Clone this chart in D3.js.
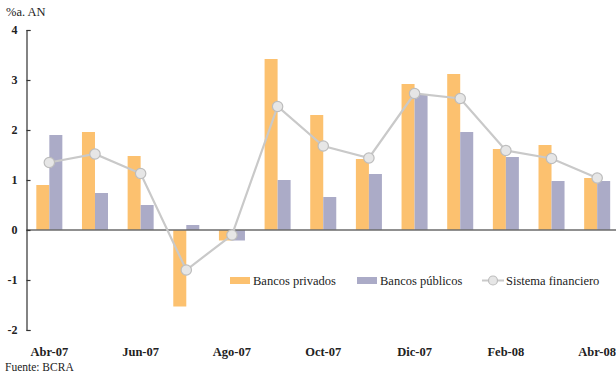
<!DOCTYPE html>
<html>
<head>
<meta charset="utf-8">
<script src="https://cdn.jsdelivr.net/npm/d3@7"></script>
<style>
  html, body { margin: 0; padding: 0; background: #fff; }
  svg { display: block; font-family: "Liberation Serif", "DejaVu Serif", serif; }
</style>
</head>
<body>
<svg id="chart" width="616" height="374"></svg>
<script>
// Monthly growth, % annualized
const months = ["Abr-07","May-07","Jun-07","Jul-07","Ago-07","Sep-07","Oct-07","Nov-07","Dic-07","Ene-08","Feb-08","Mar-08","Abr-08"];
const bancosPrivados = [0.90, 1.96, 1.48, -1.53, -0.21, 3.42, 2.30, 1.42, 2.92, 3.12, 1.62, 1.70, 1.04];
const bancosPublicos = [1.90, 0.74, 0.50, 0.10, -0.21, 1.00, 0.66, 1.12, 2.70, 1.96, 1.46, 0.98, 0.98];
const sistemaFinanciero = [1.35, 1.52, 1.13, -0.80, -0.10, 2.47, 1.68, 1.44, 2.73, 2.63, 1.59, 1.43, 1.04];
const yTicks = [-2, -1, 0, 1, 2, 3, 4];
const xLabels = ["Abr-07","Jun-07","Ago-07","Oct-07","Dic-07","Feb-08","Abr-08"];

const colPriv = "#FCC16F", colPub = "#ABABC7", colLine = "#C9C9C9";
const serif = "'Liberation Serif', 'DejaVu Serif', serif";

const svg = d3.select("#chart");

const x = d3.scaleBand().domain(months).range([26.5, 620]).paddingInner(0.43).paddingOuter(0.215);
const xs = d3.scaleBand().domain(["priv","pub"]).range([0, x.bandwidth()]);
const y = d3.scaleLinear().domain([-2, 4]).range([330, 30]);
const cx = m => x(m) + x.bandwidth() / 2;

// Title
svg.append("text").attr("x", 6).attr("y", 16).attr("font-family", serif).attr("font-size", 12.5).attr("fill", "#222").text("%a. AN");

// Bars
const g = svg.append("g");
g.selectAll("rect.priv").data(months).join("rect")
  .attr("x", m => x(m) + xs("priv"))
  .attr("width", xs.bandwidth())
  .attr("y", (m, i) => y(Math.max(0, bancosPrivados[i])))
  .attr("height", (m, i) => Math.abs(y(bancosPrivados[i]) - y(0)))
  .attr("fill", colPriv);
g.selectAll("rect.pub").data(months).join("rect")
  .attr("x", m => x(m) + xs("pub"))
  .attr("width", xs.bandwidth())
  .attr("y", (m, i) => y(Math.max(0, bancosPublicos[i])))
  .attr("height", (m, i) => Math.abs(y(bancosPublicos[i]) - y(0)))
  .attr("fill", colPub);

// Zero line
svg.append("line").attr("x1", 26.5).attr("x2", 616).attr("y1", y(0)).attr("y2", y(0))
  .attr("stroke", "#6b6b6b").attr("stroke-width", 1.5);

// Y axis
const yAxis = svg.append("g").attr("transform", "translate(26.5,0)")
  .call(d3.axisLeft(y).tickValues(yTicks).tickSize(-4).tickPadding(9).tickFormat(d => String(d)));
yAxis.select(".domain").attr("stroke", "#333").attr("stroke-width", 1.2);
yAxis.selectAll(".tick line").attr("stroke", "#333").attr("stroke-width", 1.2);
yAxis.selectAll(".tick text").attr("font-family", serif).attr("font-weight", "bold")
  .attr("font-size", 12).attr("fill", "#222");

// X labels
svg.append("g").attr("font-family", serif).selectAll("text").data(xLabels).join("text")
  .attr("x", m => cx(m)).attr("y", 356)
  .attr("text-anchor", "middle").attr("font-weight", "bold").attr("font-size", 12.5).attr("fill", "#222")
  .text(d => d);

// Line series
const line = d3.line().x((d, i) => cx(months[i])).y(d => y(d));
svg.append("path").datum(sistemaFinanciero).attr("d", line)
  .attr("fill", "none").attr("stroke", colLine).attr("stroke-width", 2.2);
svg.append("g").selectAll("circle").data(sistemaFinanciero).join("circle")
  .attr("cx", (d, i) => cx(months[i])).attr("cy", d => y(d)).attr("r", 5.2)
  .attr("fill", "#E6E6E6").attr("stroke", "#BDBDBD").attr("stroke-width", 1.2);

// Legend
const lg = svg.append("g").attr("font-family", serif).attr("font-size", 12.5).attr("fill", "#222");
lg.append("rect").attr("x", 230).attr("y", 277).attr("width", 20).attr("height", 7).attr("fill", colPriv);
lg.append("text").attr("x", 253).attr("y", 285).text("Bancos privados");
lg.append("rect").attr("x", 357).attr("y", 277).attr("width", 20).attr("height", 7).attr("fill", colPub);
lg.append("text").attr("x", 380).attr("y", 285).text("Bancos públicos");
lg.append("line").attr("x1", 482).attr("x2", 504).attr("y1", 280.5).attr("y2", 280.5)
  .attr("stroke", colLine).attr("stroke-width", 2);
lg.append("circle").attr("cx", 493).attr("cy", 280.5).attr("r", 4.5)
  .attr("fill", "#E6E6E6").attr("stroke", "#BDBDBD").attr("stroke-width", 1.2);
lg.append("text").attr("x", 506).attr("y", 285).text("Sistema financiero");

// Source
svg.append("text").attr("x", 5).attr("y", 371).attr("font-family", serif).attr("font-size", 11.5).attr("fill", "#222").text("Fuente: BCRA");
</script>
</body>
</html>
